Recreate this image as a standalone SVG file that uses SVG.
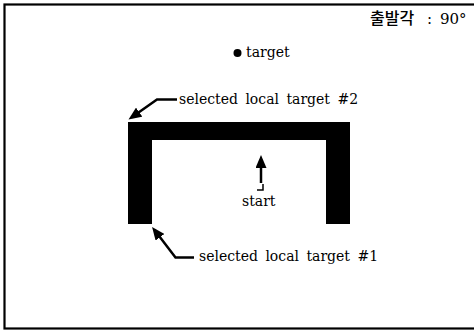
<svg xmlns="http://www.w3.org/2000/svg" width="474" height="331" viewBox="0 0 474 331">
  <style>
    .lbl { font-family: "DejaVu Serif", "Liberation Serif", serif; font-size: 14px; fill: #000; word-spacing: 3px; }
    .kr { font-family: "Noto Sans CJK KR", sans-serif; font-size: 16px; font-weight: 500; fill: #000; }
    .num { font-family: "DejaVu Serif", "Liberation Serif", serif; font-size: 15px; }
    .lead { fill: none; stroke: #000; stroke-width: 2.5; }
  </style>
  <defs>
    <marker id="head" markerUnits="userSpaceOnUse" markerWidth="14" markerHeight="11" refX="9" refY="5.5" orient="auto">
      <path d="M0,0 L13,5.5 L0,11 z" fill="#000"/>
    </marker>
  </defs>

  <!-- frame -->
  <rect x="4.5" y="4.5" width="480" height="324" fill="#fff" stroke="#000" stroke-width="2.2"/>

  <!-- heading: departure angle -->
  <g id="heading">
    <text class="kr" y="24"><tspan x="370">출발각</tspan><tspan class="num" x="427">:</tspan><tspan class="num" x="440">90°</tspan></text>
  </g>

  <!-- goal point -->
  <g id="target">
    <circle cx="237.5" cy="53" r="4"/>
    <text class="lbl" x="246" y="57">target</text>
  </g>

  <!-- U-shaped obstacle -->
  <g id="obstacle">
    <path d="M128,122 H350 V224 H326 V140 H152 V224 H128 Z" fill="#000"/>
  </g>

  <!-- start position with heading arrow -->
  <g id="start">
    <path d="M263,184 V190 H257" fill="none" stroke="#000" stroke-width="1.5"/>
    <text class="lbl" x="242" y="206">start</text>
  </g>

  <g id="local-target-2">
    <text class="lbl" x="179" y="104">selected local target #2</text>
  </g>

  <g id="local-target-1">
    <text class="lbl" x="199" y="261">selected local target #1</text>
  </g>

  <!-- connectors -->
  <g id="connectors">
    <path class="lead" d="M177,99.5 H157 L131.8,117.3" marker-end="url(#head)"/>
    <path class="lead" d="M194,257.5 H175.5 L154.5,230.1" marker-end="url(#head)"/>
    <path class="lead" d="M261,183 V159" marker-end="url(#head)"/>
  </g>
</svg>
